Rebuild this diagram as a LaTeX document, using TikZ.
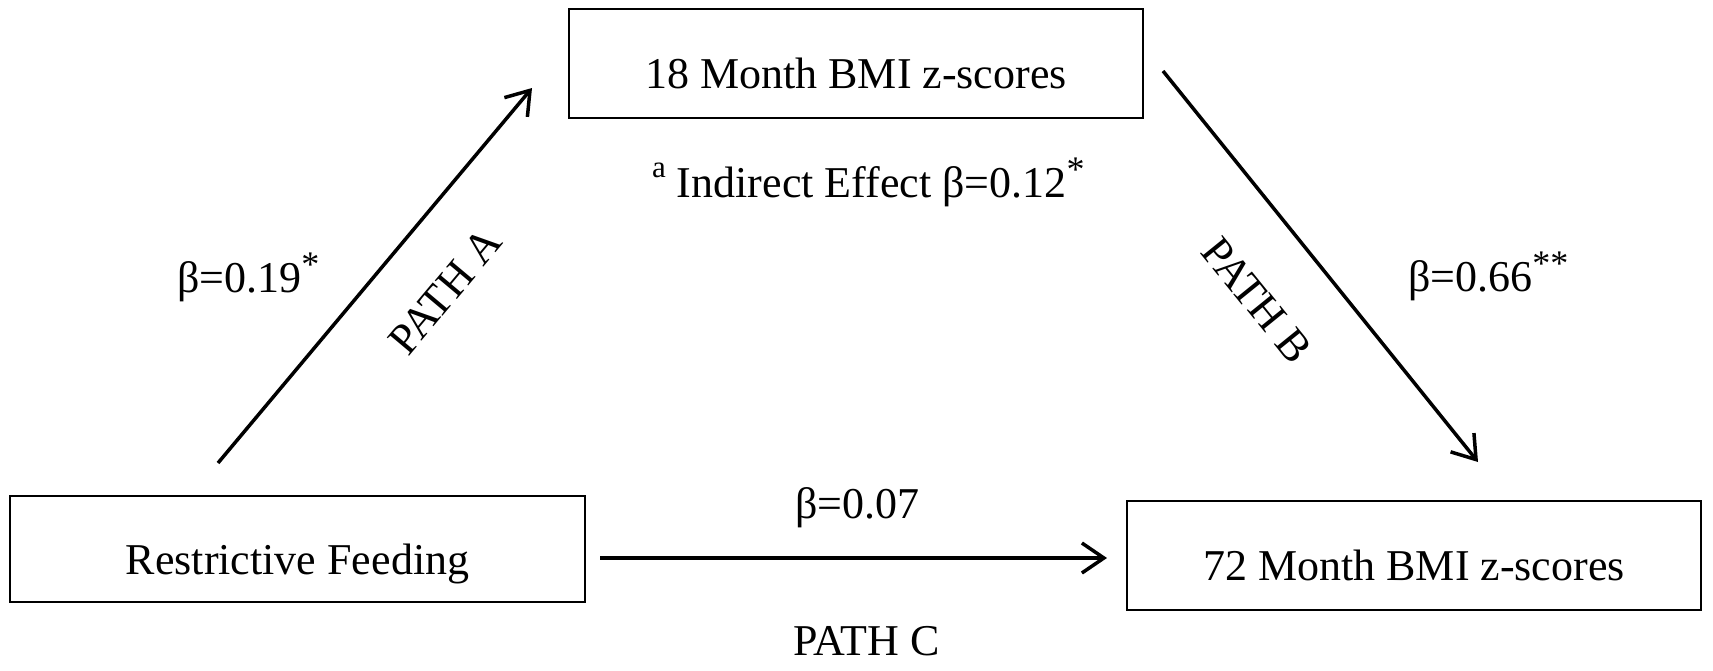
\documentclass[tikz,border=0pt]{standalone}
\usepackage{fontspec}
\setmainfont{Liberation Serif}
\usetikzlibrary{arrows.meta}
\newcommand\starsup[1]{\raisebox{16pt}{\fontsize{36}{36}\selectfont #1}}
\newcommand\letsup[1]{\raisebox{20pt}{\fontsize{31}{31}\selectfont #1}}
\begin{document}
\begin{tikzpicture}[x=1pt,y=-1pt,
  box/.style={draw, line width=2.5pt, inner sep=0pt, text height=50pt, text depth=0pt, font=\fontsize{44}{50}\selectfont},
  lbl/.style={inner sep=0pt, font=\fontsize{44}{50}\selectfont},
  conn/.style={line width=3.5pt, -{Straight Barb[length=22pt,width=30pt,line width=3.5pt]}},
  connthick/.style={conn, line width=4.5pt}
]
\useasboundingbox (0,0) rectangle (1713,670);
% boxes
\node[box, minimum width=574pt, minimum height=109pt] (m18) at (856,63.5) {18 Month BMI z-scores};
\node[box, minimum width=575pt, minimum height=106pt] (rf) at (297.5,549) {Restrictive Feeding};
\node[box, minimum width=574pt, minimum height=109pt] (m72) at (1414,555.5) {72 Month BMI z-scores};
% connector end points
\coordinate (aS) at (218,463);
\coordinate (aE) at (532,88);
\coordinate (bS) at (1163,71);
\coordinate (bE) at (1478,462);
\coordinate (cS) at (600,558);
\coordinate (cE) at (1107,558);
\draw[conn] (aS) -- (aE);
\draw[conn] (bS) -- (bE);
\draw[connthick] (cS) -- (cE);
% labels
\node[lbl, anchor=base west] (b19) at (177,292) {β=0.19\starsup{*}};
\node[lbl, rotate=50] (pa) at (445,291) {PATH A};
\node[lbl, anchor=base west] (ie) at (652,197) {\letsup{a} Indirect Effect β=0.12\starsup{*}};
\node[lbl, rotate=-51] (pb) at (1257,300) {PATH B};
\node[lbl, anchor=base west] (b66) at (1408,291) {β=0.66\starsup{**}};
\node[lbl, anchor=base west] (b07) at (795,518) {β=0.07};
\node[lbl, anchor=base west] (pc) at (793,655) {PATH C};
\end{tikzpicture}
\end{document}
